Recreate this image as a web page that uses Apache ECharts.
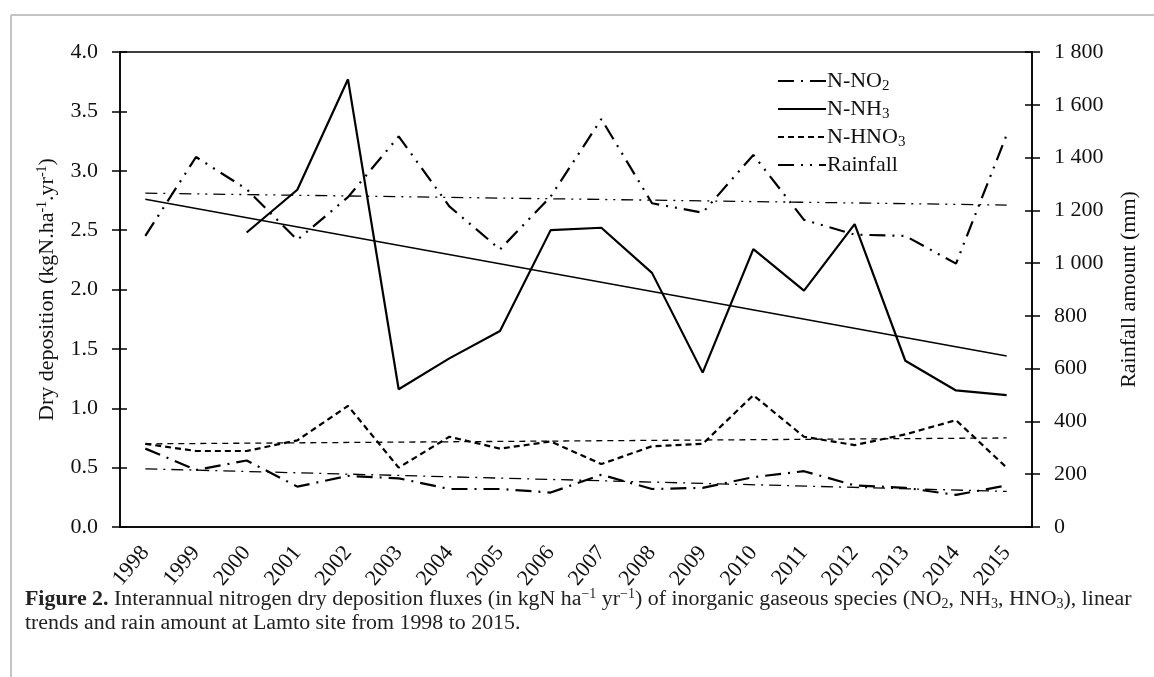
<!DOCTYPE html>
<html>
<head>
<meta charset="utf-8">
<script src="https://cdn.jsdelivr.net/npm/echarts@6/dist/echarts.min.js"></script>
<style>
html,body{margin:0;padding:0;background:#fff;}
#chart{width:1154px;height:677px;}
</style>
</head>
<body>
<div id="chart"></div>
<script>
const years = ['1998','1999','2000','2001','2002','2003','2004','2005','2006','2007','2008','2009','2010','2011','2012','2013','2014','2015'];
const no2 = [0.66,0.48,0.56,0.34,0.43,0.41,0.32,0.32,0.29,0.44,0.32,0.33,0.42,0.47,0.35,0.33,0.27,0.35];
const nh3 = [null,null,2.48,2.84,3.77,1.16,1.42,1.65,2.50,2.52,2.14,1.30,2.34,1.99,2.55,1.40,1.15,1.11];
const hno3 = [0.70,0.64,0.64,0.73,1.02,0.50,0.76,0.66,0.72,0.53,0.68,0.70,1.11,0.76,0.69,0.78,0.90,0.50];
const rainfall = [1103,1402,1280,1088,1250,1480,1215,1052,1252,1546,1227,1191,1410,1164,1108,1103,998,1486];
const no2Trend = [0.49,null,null,null,null,null,null,null,null,null,null,null,null,null,null,null,null,0.30];
const nh3Trend = [2.76,null,null,null,null,null,null,null,null,null,null,null,null,null,null,null,null,1.44];
const hno3Trend = [0.70,null,null,null,null,null,null,null,null,null,null,null,null,null,null,null,null,0.75];
const rainTrend = [1265,null,null,null,null,null,null,null,null,null,null,null,null,null,null,null,null,1220];
const leftTicks = {min:0, max:4, interval:0.5};
const rightTicks = {min:0, max:1800, interval:200};

const FONT = "'Liberation Serif', 'DejaVu Serif', serif";
const chart = echarts.init(document.getElementById('chart'));
const legendNames = {
  'N-NO2': 'N-NO{sub|2}',
  'N-NH3': 'N-NH{sub|3}',
  'N-HNO3': 'N-HNO{sub|3}',
  'Rainfall': 'Rainfall'
};
const axisLabelStyle = {color:'#111', fontFamily:FONT, fontSize:22};
function mainLine(name, data, type, yIdx){
  return {name, type:'line', data, yAxisIndex:yIdx||0, symbol:'none', showSymbol:false, smooth:false,
    lineStyle:{color:'#000', width:2.2, type:type}, itemStyle:{color:'#000', opacity:0}, z:3};
}
function trendLine(name, data, type, yIdx){
  return {name, type:'line', data, yAxisIndex:yIdx||0, symbol:'none', connectNulls:true,
    lineStyle:{color:'#000', width:1.3, type:type}, itemStyle:{color:'#000'}, z:2, silent:true};
}
const dashNO2 = [16,7,2,7];
const dashRain = [16,7,2,7,2,7];
const dashHNO3 = [6,4];
const option = {
  animation:false,
  backgroundColor:'#fff',
  grid:{left:120, right:122, top:52, bottom:150, show:true, borderColor:'#000', borderWidth:1.5},
  title:{
    left:20, top:582,
    text:'{b|Figure 2.} Interannual nitrogen dry deposition fluxes (in kgN ha{sup|\u22121} yr{sup|\u22121}) of inorganic gaseous species (NO{sub|2}, NH{sub|3}, HNO{sub|3}), linear\ntrends and rain amount at Lamto site from 1998 to 2015.',
    textStyle:{
      fontFamily:FONT, fontSize:21.9, fontWeight:'normal', color:'#222', lineHeight:24,
      rich:{
        b:{fontFamily:FONT, fontSize:21.9, fontWeight:'bold', color:'#222', lineHeight:24},
        sup:{fontFamily:FONT, fontSize:14, color:'#222', verticalAlign:'top', lineHeight:12},
        sub:{fontFamily:FONT, fontSize:14, color:'#222', verticalAlign:'bottom', lineHeight:8}
      }
    }
  },
  legend:{
    orient:'vertical', left:772, top:63, itemWidth:48, itemHeight:10, itemGap:2,
    data:['N-NO2','N-NH3','N-HNO3','Rainfall'],
    itemStyle:{opacity:0, borderWidth:0},
    formatter:function(n){return legendNames[n];},
    textStyle:{fontFamily:FONT, fontSize:22, color:'#111', padding:[0,0,0,-4], lineHeight:26,
      rich:{sub:{fontFamily:FONT, fontSize:15, color:'#111', verticalAlign:'bottom', lineHeight:10}}}
  },
  xAxis:[
    {type:'category', data:years, boundaryGap:true, position:'bottom',
     axisLine:{lineStyle:{color:'#000', width:1.5}},
     axisTick:{alignWithLabel:true, length:7, lineStyle:{color:'#000', width:1.5}},
     axisLabel:Object.assign({rotate:50, margin:22, interval:0}, axisLabelStyle),
     splitLine:{show:false}},
    {type:'category', data:years, boundaryGap:true, position:'bottom',
     axisLine:{show:false},
     axisTick:{alignWithLabel:true, inside:true, length:7, lineStyle:{color:'#000', width:1.5}},
     axisLabel:{show:false}, splitLine:{show:false}}
  ],
  yAxis:[
    Object.assign({type:'value', position:'left',
     name:'Dry deposition (kgN.ha{sup|-1}.yr{sup|-1})', nameLocation:'middle', nameGap:58, nameRotate:90,
     nameTextStyle:{fontFamily:FONT, fontSize:22, color:'#111', lineHeight:24,
       rich:{sup:{fontFamily:FONT, fontSize:14, color:'#111', verticalAlign:'top', lineHeight:12}}},
     axisLine:{show:true, lineStyle:{color:'#000', width:1.5}},
     axisTick:{show:true, length:8, lineStyle:{color:'#000', width:1.5}},
     axisLabel:Object.assign({margin:22, formatter:v=>v.toFixed(1)}, axisLabelStyle),
     splitLine:{show:false}}, leftTicks),
    Object.assign({type:'value', position:'right',
     name:'Rainfall amount (mm)', nameLocation:'middle', nameGap:86, nameRotate:90,
     nameTextStyle:{fontFamily:FONT, fontSize:22, color:'#111'},
     axisLine:{show:true, lineStyle:{color:'#000', width:1.5}},
     axisTick:{show:true, length:8, lineStyle:{color:'#000', width:1.5}},
     axisLabel:Object.assign({margin:22, formatter:v=>String(v).replace(/\B(?=(\d{3})+(?!\d))/g,' ')}, axisLabelStyle),
     splitLine:{show:false}}, rightTicks),
    Object.assign({type:'value', position:'left', axisLine:{show:false},
     axisTick:{show:true, inside:true, length:7, lineStyle:{color:'#000', width:1.5}},
     axisLabel:{show:false}, splitLine:{show:false}}, leftTicks),
    Object.assign({type:'value', position:'right', axisLine:{show:false},
     axisTick:{show:true, inside:true, length:7, lineStyle:{color:'#000', width:1.5}},
     axisLabel:{show:false}, splitLine:{show:false}}, rightTicks)
  ],
  graphic:[
    {type:'line', shape:{x1:11, y1:15, x2:1154, y2:15}, style:{stroke:'#c4c4c4', lineWidth:2}, silent:true},
    {type:'line', shape:{x1:11, y1:15, x2:11, y2:677}, style:{stroke:'#c4c4c4', lineWidth:2}, silent:true}
  ],
  series:[
    mainLine('N-NO2', no2, dashNO2),
    mainLine('N-NH3', nh3, 'solid'),
    mainLine('N-HNO3', hno3, dashHNO3),
    mainLine('Rainfall', rainfall, dashRain, 1),
    trendLine('NO2 trend', no2Trend, [12,6,2,6]),
    trendLine('NH3 trend', nh3Trend, 'solid'),
    trendLine('HNO3 trend', hno3Trend, [6,5]),
    trendLine('Rainfall trend', rainTrend, [12,6,2,6,2,6], 1)
  ]
};
chart.setOption(option);
</script>
</body>
</html>
